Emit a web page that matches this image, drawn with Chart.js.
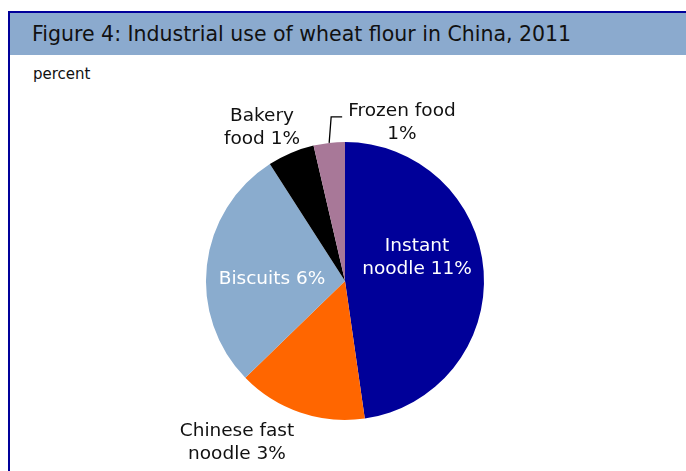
<!DOCTYPE html>
<html>
<head>
<meta charset="utf-8">
<script src="https://cdn.jsdelivr.net/npm/chart.js@4.4.1/dist/chart.umd.min.js"></script>
<style>
  html, body { margin: 0; padding: 0; background: #fff; }
  #wrap { position: relative; width: 686px; height: 471px; overflow: hidden; font-family: "DejaVu Sans", Verdana, sans-serif; }
  #frame { position: absolute; left: 8px; top: 11px; width: 700px; height: 480px; border-left: 2px solid #00009A; border-top: 2px solid #00009A; }
  #header { position: absolute; left: 10px; top: 13px; width: 690px; height: 42px; background: #8BAACE; }
  #title { position: absolute; left: 32px; top: 22px; font-size: 20.5px; color: #111; white-space: nowrap; }
  #unit { position: absolute; left: 33px; top: 65px; font-size: 15px; color: #111; }
  canvas { position: absolute; left: 0; top: 0; }
</style>
</head>
<body>
<div id="wrap">
  <div id="frame"></div>
  <div id="header"></div>
  <div id="title">Figure 4: Industrial use of wheat flour in China, 2011</div>
  <div id="unit">percent</div>
  <canvas id="pie" width="686" height="471"></canvas>
</div>
<script>
// slices, clockwise from 12 o'clock
const categories = ['Instant noodle', 'Chinese fast noodle', 'Biscuits', 'Bakery food', 'Frozen food'];
const shares = [10.5, 3.3, 6.2, 1.2, 0.8];
const labelLines = [
  ['Instant', 'noodle 11%'],
  ['Chinese fast', 'noodle 3%'],
  ['Biscuits 6%'],
  ['Bakery', 'food 1%'],
  ['Frozen food', '1%']
];
const sliceColors = ['#000099', '#FF6600', '#8AACCE', '#000000', '#A87898'];

// label placement relative to pie centre (px), text colour
const labelPos = [
  { dx: 72, dy: -23, color: '#fff' },
  { dx: -108, dy: 162, color: '#111' },
  { dx: -73, dy: -2, color: '#fff' },
  { dx: -83, dy: -153, color: '#111' },
  { dx: 57, dy: -158, color: '#111' }
];

const pieLabels = {
  id: 'pieLabels',
  afterDatasetsDraw(chart) {
    const ctx = chart.ctx;
    const meta = chart.getDatasetMeta(0);
    const cx = meta.data[0].x, cy = meta.data[0].y;
    ctx.save();
    ctx.font = '18.5px "DejaVu Sans", Verdana, sans-serif';
    ctx.textAlign = 'center';
    ctx.textBaseline = 'middle';
    labelLines.forEach((lines, i) => {
      const p = labelPos[i];
      ctx.fillStyle = p.color;
      const lh = 23;
      const y0 = cy + p.dy - (lines.length - 1) * lh / 2;
      lines.forEach((t, j) => ctx.fillText(t, cx + p.dx, y0 + j * lh));
    });
    // leader line for frozen food
    const arc = meta.data[4];
    const mid = (arc.startAngle + arc.endAngle) / 2;
    const sx = cx + Math.cos(mid) * arc.outerRadius;
    const sy = cy + Math.sin(mid) * arc.outerRadius;
    ctx.strokeStyle = '#000';
    ctx.lineWidth = 1.3;
    ctx.beginPath();
    ctx.moveTo(sx, sy);
    ctx.lineTo(sx + 2, sy - 26);
    ctx.lineTo(sx + 13, sy - 26);
    ctx.stroke();
    ctx.restore();
  }
};

new Chart(document.getElementById('pie'), {
  type: 'pie',
  data: {
    labels: categories,
    datasets: [{
      data: shares,
      backgroundColor: sliceColors,
      borderWidth: 0
    }]
  },
  options: {
    responsive: false,
    animation: false,
    layout: { padding: { left: 206, right: 202, top: 142, bottom: 51 } },
    plugins: { legend: { display: false }, tooltip: { enabled: false } }
  },
  plugins: [pieLabels]
});
</script>
</body>
</html>
